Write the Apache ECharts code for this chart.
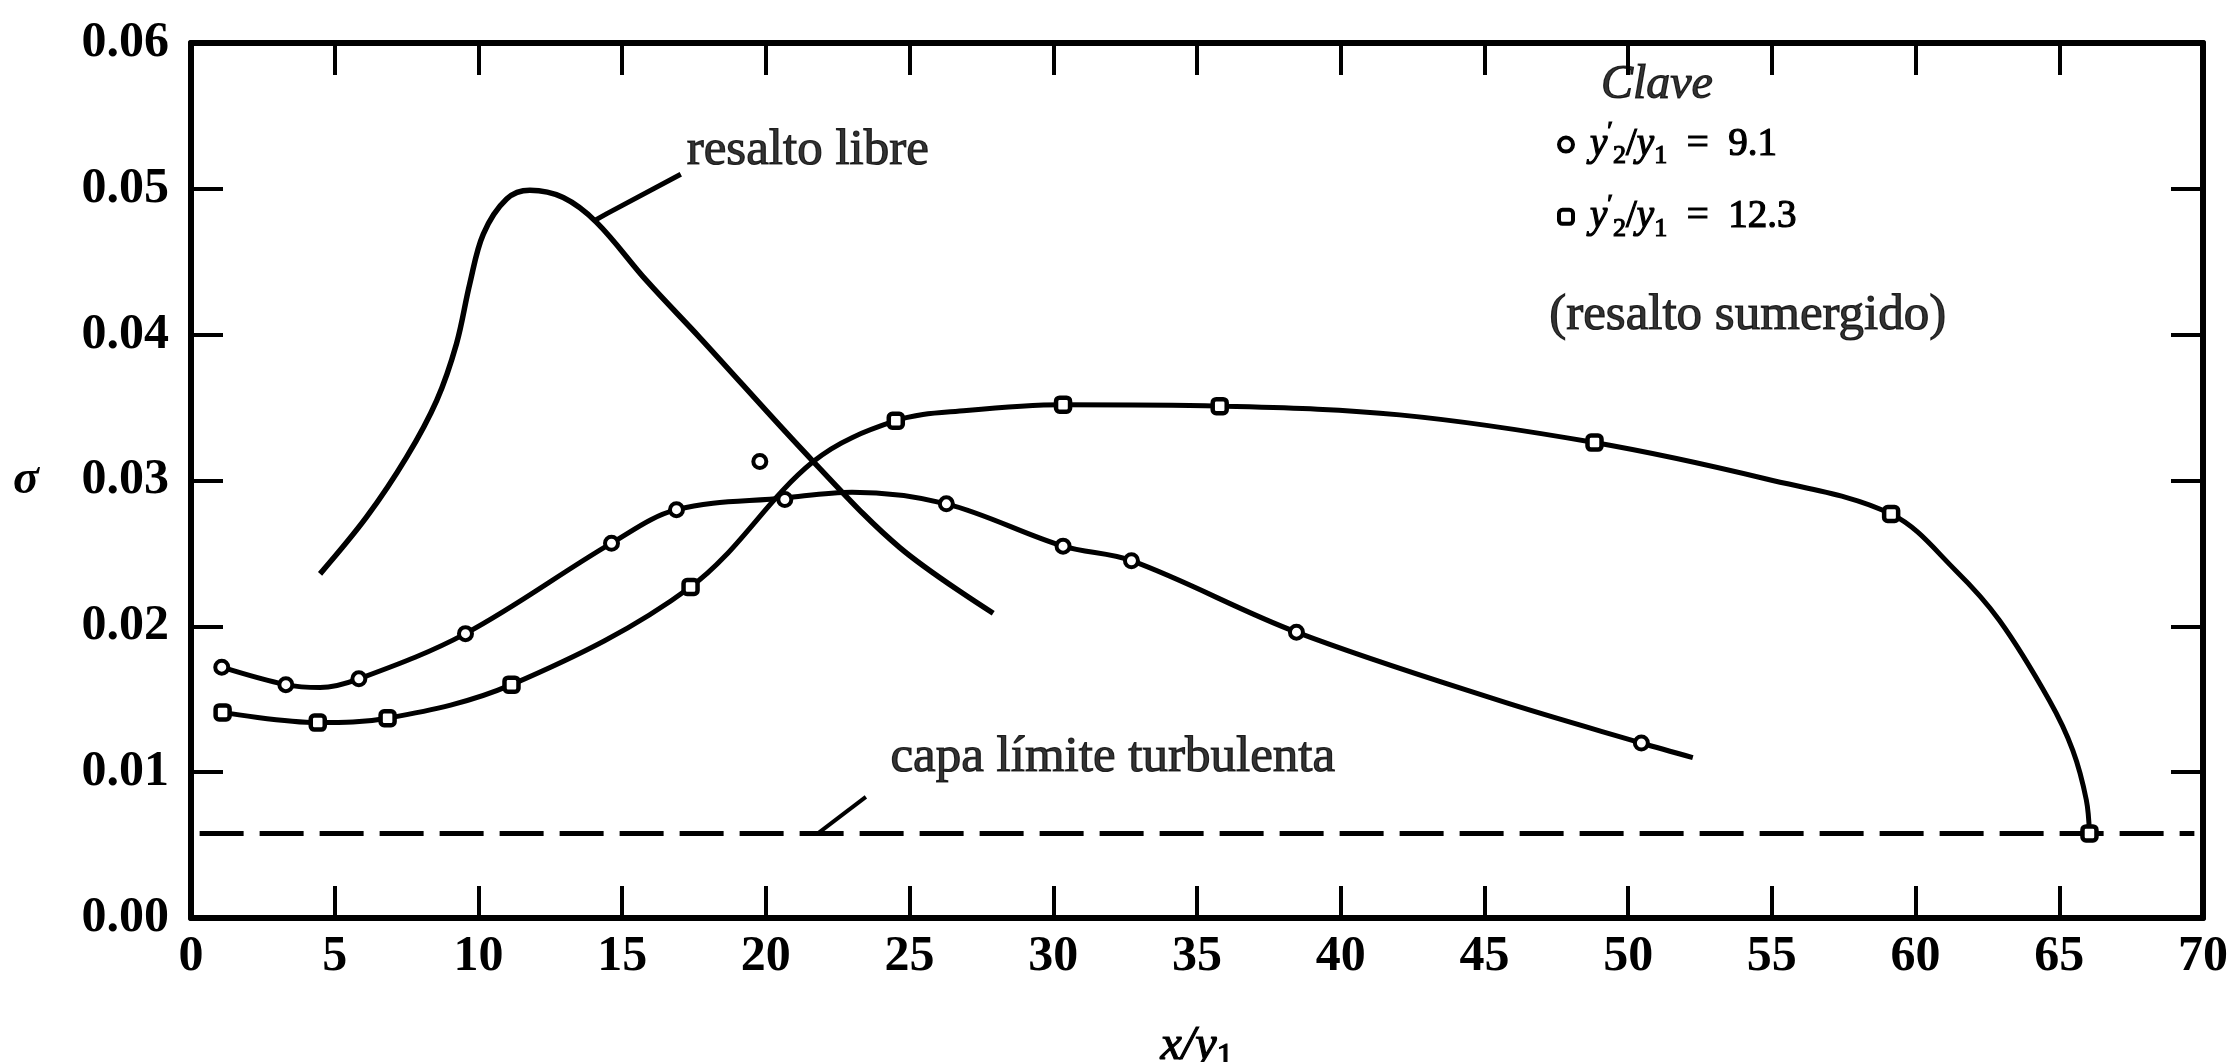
<!DOCTYPE html>
<html>
<head>
<meta charset="utf-8">
<title>sigma vs x/y1</title>
<script src="https://cdn.jsdelivr.net/npm/echarts@6/dist/echarts.min.js"></script>
<style>
  html, body { margin: 0; padding: 0; background: #fff; }
  #chart { width: 2227px; height: 1062px; }
</style>
</head>
<body>
<div id="chart"></div>
<script>
// y2'/y1 = 9.1 (circles)
const circleX = [1.07, 3.30, 5.84, 9.55, 14.63, 16.89, 19.79, 20.66, 26.28, 30.34, 32.72, 38.46, 50.46];
const circleY = [0.0172, 0.0160, 0.0164, 0.0195, 0.0257, 0.0280, 0.0313, 0.0287, 0.0284, 0.0255, 0.0245, 0.0196, 0.0120];
// the hand drawn curve through them (skips the stray point near 19.8)
const circleCurveX = [1.07, 3.30, 4.49, 5.84, 9.55, 14.63, 16.89, 20.66, 23.0, 26.28, 30.34, 32.72, 38.46, 45.53, 50.46, 52.25];
const circleCurveY = [0.0172, 0.0160, 0.0158, 0.0164, 0.0195, 0.0257, 0.0280, 0.0288, 0.0292, 0.0284, 0.0255, 0.0245, 0.0196, 0.0149, 0.0120, 0.0110];

// y2'/y1 = 12.3 (squares)
const squareX = [1.10, 4.41, 6.84, 11.15, 17.38, 24.52, 30.34, 35.79, 48.83, 59.15, 66.05];
const squareY = [0.0141, 0.0134, 0.0137, 0.0160, 0.0227, 0.0341, 0.0352, 0.0351, 0.0326, 0.0277, 0.0058];
const squareCurveX = [1.10, 4.41, 6.84, 11.15, 17.38, 21.65, 24.52, 26.98, 30.34, 35.79, 42.05, 48.83, 54.81, 59.15, 61.41, 62.92, 64.66, 65.47, 65.94, 66.05];
const squareCurveY = [0.0141, 0.0134, 0.0137, 0.0160, 0.0227, 0.0313, 0.0341, 0.0348, 0.0352, 0.0351, 0.0345, 0.0326, 0.0301, 0.0277, 0.0238, 0.0204, 0.0149, 0.0115, 0.0081, 0.0058];

// resalto libre
const freeJumpX = [4.49, 6.11, 7.50, 8.55, 9.24, 9.70, 10.17, 10.98, 11.79, 12.95, 14.11, 15.85, 17.70, 21.65, 24.66, 27.91];
const freeJumpY = [0.0236, 0.0275, 0.0316, 0.0355, 0.0394, 0.0435, 0.0469, 0.0493, 0.0499, 0.0494, 0.0477, 0.0437, 0.0398, 0.0313, 0.0254, 0.0209];

// capa limite turbulenta
const boundaryX = [0.3, 69.7];
const boundaryY = [0.0058, 0.0058];

// text notes and their pointer lines
const noteText = ['resalto libre', 'capa límite turbulenta', 'Clave', '(resalto sumergido)'];
const noteStyle = ['rm', 'rm', 'ital', 'rm'];
const noteX = [21.46, 32.07, 51.0, 54.16];
const noteY = [0.0526, 0.0110, 0.0571, 0.0413];
const pointerFreeX = [17.04, 14.47, 14.02];
const pointerFreeY = [0.0510, 0.0483, 0.0478];
const pointerBoundaryX = [23.48, 21.81];
const pointerBoundaryY = [0.0083, 0.0058];

const keyValues = ['9.1', '12.3'];

const zip = (xs, ys) => xs.map((x, i) => [x, ys[i]]);

const FONT = 'Liberation Serif';
const INK = '#000';

const circleName = 'circ';
const squareName = 'sq';

const chart = echarts.init(document.getElementById('chart'));

const axisCommon = {
    type: 'value',
    axisLine: { show: true, onZero: false, lineStyle: { color: INK, width: 6 } },
    axisTick: { show: true, inside: true, length: 32, lineStyle: { color: INK, width: 4 } },
    splitLine: { show: false }
};

const plainLine = (data, width, extra) => Object.assign({
    type: 'line',
    data: data,
    symbol: 'none',
    silent: true,
    lineStyle: { color: INK, width: width }
}, extra || {});

// text piece style, serif black with a slight stroke to match the printed weight
const ts = (size, extra) => Object.assign({
    fontFamily: FONT, fontSize: size, color: INK, textBorderColor: INK, textBorderWidth: 1.2
}, extra || {});

const option = {
    backgroundColor: '#fff',
    animation: false,
    textStyle: { fontFamily: FONT, color: INK },
    grid: { left: 191, right: 24, top: 43, bottom: 144, outerBoundsMode: 'none', containLabel: false },
    xAxis: [
        Object.assign({}, axisCommon, {
            min: 0, max: 70, interval: 5,
            position: 'bottom',
            axisLabel: {
                color: INK, fontFamily: FONT, fontSize: 50, fontWeight: 'bold', margin: 14
            },
            name: '{ital|x/y}{lo|1}',
            nameLocation: 'middle',
            nameGap: 128,
            nameTextStyle: {
                fontFamily: FONT,
                align: 'center',
                verticalAlign: 'middle',
                rich: {
                    ital: ts(48, { fontStyle: 'italic', lineHeight: 56 }),
                    lo: ts(34, { lineHeight: 34, verticalAlign: 'bottom' })
                }
            }
        }),
        Object.assign({}, axisCommon, {
            min: 0, max: 70, interval: 5,
            position: 'top',
            axisLabel: { show: false }
        })
    ],
    yAxis: [
        Object.assign({}, axisCommon, {
            min: 0, max: 0.06, interval: 0.01,
            position: 'left',
            axisLabel: {
                color: INK, fontFamily: FONT, fontSize: 50, fontWeight: 'bold', margin: 22,
                formatter: v => v.toFixed(2)
            },
            name: 'σ',
            nameLocation: 'middle',
            nameRotate: 0,
            nameGap: 165,
            nameTextStyle: {
                fontFamily: FONT, fontSize: 48, fontWeight: 'bold', fontStyle: 'italic',
                color: INK, align: 'center', verticalAlign: 'middle'
            }
        }),
        Object.assign({}, axisCommon, {
            min: 0, max: 0.06, interval: 0.01,
            position: 'right',
            axisLabel: { show: false }
        })
    ],
    legend: {
        orient: 'vertical',
        left: 1552,
        top: 114,
        itemWidth: 14,
        itemHeight: 14,
        itemGap: 21,
        selectedMode: false,
        data: [
            { name: circleName, icon: 'circle', itemStyle: { color: '#fff', borderColor: INK, borderWidth: 4 } },
            { name: squareName, icon: 'roundRect', itemStyle: { color: '#fff', borderColor: INK, borderWidth: 4 } }
        ],
        formatter: name => {
            const v = name === circleName ? keyValues[0] : keyValues[1];
            return '{ital|y}{hi|′}{lo|2}{rm|/}{ital|y}{lo|1}{rm|  =  ' + v + '}';
        },
        textStyle: {
            fontFamily: FONT,
            fontSize: 39,
            color: INK,
            padding: [0, 0, 0, 12],
            rich: {
                ital: ts(39, { fontStyle: 'italic', lineHeight: 50 }),
                rm: ts(39, { lineHeight: 50 }),
                lo: ts(26, { lineHeight: 26, verticalAlign: 'bottom' }),
                hi: ts(26, { lineHeight: 26, verticalAlign: 'top' })
            }
        }
    },
    series: [
        plainLine(zip(boundaryX, boundaryY), 5, { lineStyle: { color: INK, width: 5, type: [44, 16] } }),
        plainLine(zip(freeJumpX, freeJumpY), 5.5, { smooth: 0.35 }),
        plainLine(zip(circleCurveX, circleCurveY), 5, { smooth: 0.35 }),
        plainLine(zip(squareCurveX, squareCurveY), 5, { smooth: 0.35 }),
        plainLine(zip(pointerFreeX, pointerFreeY), 5),
        plainLine(zip(pointerBoundaryX, pointerBoundaryY), 4),
        {
            name: circleName,
            type: 'scatter',
            data: zip(circleX, circleY),
            symbol: 'circle',
            symbolSize: 13,
            itemStyle: { color: '#fff', borderColor: INK, borderWidth: 4, opacity: 1 },
            z: 5
        },
        {
            name: squareName,
            type: 'scatter',
            data: zip(squareX, squareY),
            symbol: 'roundRect',
            symbolSize: 14,
            itemStyle: { color: '#fff', borderColor: INK, borderWidth: 4.5, opacity: 1 },
            z: 5
        },
        {
            type: 'scatter',
            silent: true,
            symbolSize: 0,
            data: noteText.map((t, i) => ({ name: t, value: [noteX[i], noteY[i]], style: noteStyle[i] })),
            label: {
                show: true,
                position: 'inside',
                formatter: p => '{' + p.data.style + '|' + p.name + '}',
                rich: {
                    rm: ts(51),
                    ital: ts(48, { fontStyle: 'italic' })
                }
            },
            z: 6
        }
    ]
};

chart.setOption(option);
</script>
</body>
</html>
